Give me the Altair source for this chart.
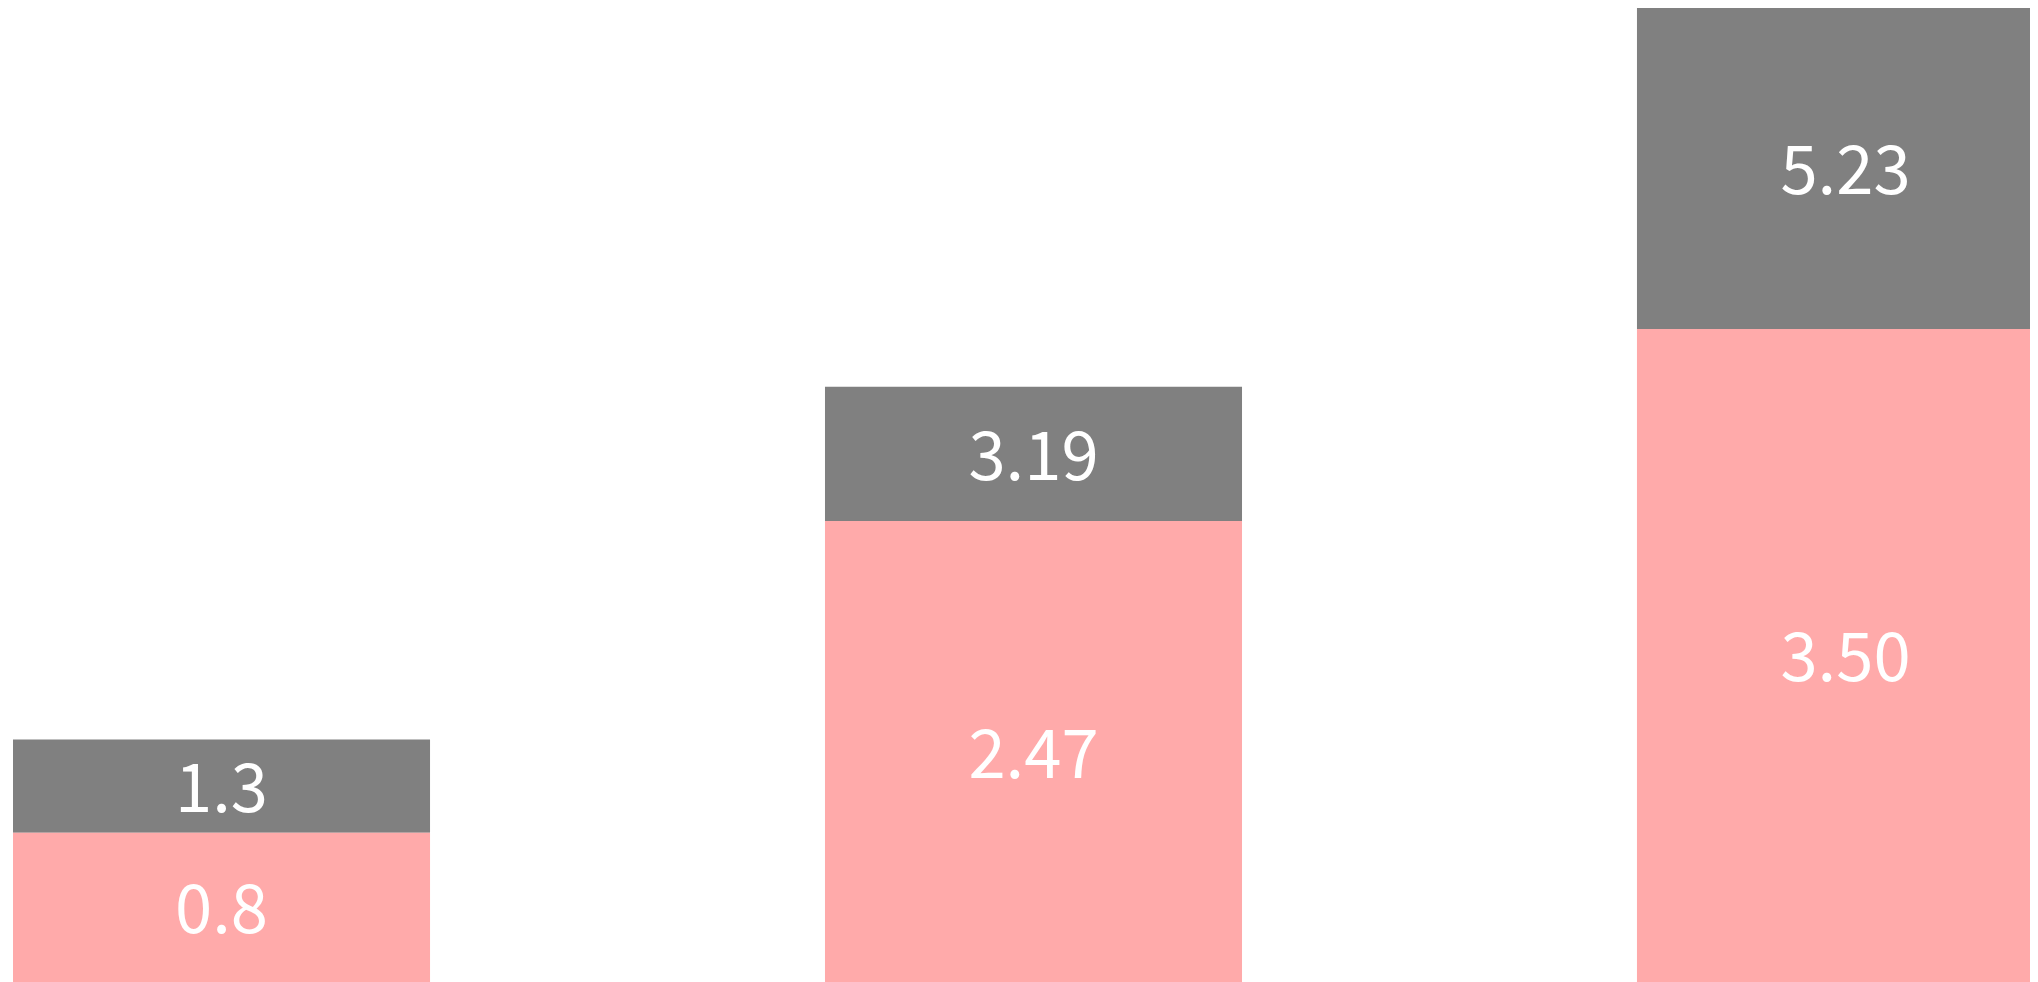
import altair as alt
import pandas as pd

categories = ["A", "B", "C"]
bottom_values = [0.8, 2.47, 3.50]
total_values = [1.3, 3.19, 5.23]
bottom_labels = ["0.8", "2.47", "3.50"]
total_labels = ["1.3", "3.19", "5.23"]

df = pd.DataFrame({
    "category": categories,
    "bottom": bottom_values,
    "total": total_values,
    "bottom_label": bottom_labels,
    "total_label": total_labels,
})

FONT = "Noto Sans CJK SC"
FS = 67
DY = 6

x = alt.X("category:N", sort=None, axis=None,
          scale=alt.Scale(range=[5, 2046], paddingInner=0.4864, paddingOuter=0))
yscale = alt.Scale(domain=[0, 5.22], nice=False, zero=True)

base = alt.Chart(df).encode(x=x)

gray = base.mark_bar(color="#808080", clip=True).encode(
    y=alt.Y("bottom:Q", scale=yscale, axis=None),
    y2="total:Q",
)
pink = base.transform_calculate(zero="0").mark_bar(color="#ffaaaa", clip=True).encode(
    y=alt.Y("zero:Q", scale=yscale, axis=None),
    y2="bottom:Q",
)

top_text = base.transform_calculate(
    mid="(datum.bottom + datum.total) / 2"
).mark_text(color="white", font=FONT, fontSize=FS, baseline="middle",
            align="center", dy=DY).encode(
    y=alt.Y("mid:Q", scale=yscale, axis=None),
    text="total_label:N",
)
bottom_text = base.transform_calculate(
    mid="datum.bottom / 2"
).mark_text(color="white", font=FONT, fontSize=FS, baseline="middle",
            align="center", dy=DY).encode(
    y=alt.Y("mid:Q", scale=yscale, axis=None),
    text="bottom_label:N",
)

chart = alt.layer(gray, pink, top_text, bottom_text).properties(
    width=2022, height=974, padding=0, background="white"
).configure_view(stroke=None, strokeWidth=0)

chart.save("out.html", embed_options={"renderer": "svg", "actions": False})
